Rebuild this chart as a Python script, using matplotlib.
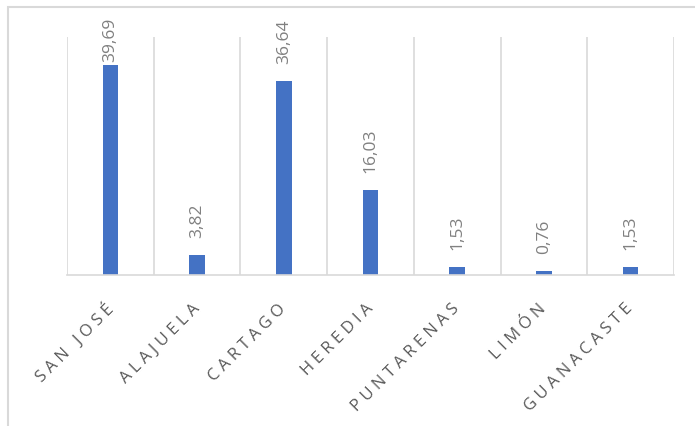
import matplotlib
matplotlib.use("Agg")
import matplotlib.pyplot as plt
from matplotlib.patches import Rectangle

provincias = ["SAN JOSÉ", "ALAJUELA", "CARTAGO", "HEREDIA",
              "PUNTARENAS", "LIMÓN", "GUANACASTE"]
porcentajes = [39.69, 3.82, 36.64, 16.03, 1.53, 0.76, 1.53]

plt.rcParams['font.family'] = ['Open Sans', 'DejaVu Sans']

W, H = 695, 427
fig = plt.figure(figsize=(W / 100, H / 100), dpi=100)
ax = fig.add_axes([67 / W, (H - 276) / H, (674 - 67) / W, (276 - 38) / H])

# chart border
fig.patches.append(Rectangle((8 / W, -0.1), 1.2, (H - 8) / H + 0.1,
                             transform=fig.transFigure, fill=False,
                             edgecolor='#D9D9D9', linewidth=1.5))

x = range(len(provincias))
ax.bar(x, porcentajes, width=0.18, color='#4472C4', zorder=2)

etiquetas = []
for i, v in enumerate(porcentajes):
    t = ax.annotate(f"{v:.2f}".replace(".", ","), (i, v), xytext=(0, 13),
                    textcoords='offset points', rotation=90, ha='center',
                    va='bottom', fontsize=12.5, color='#808080')
    etiquetas.append(t)

ax.set_xlim(-0.5, len(provincias) - 0.5)
ax.set_ylim(0, 45)

# vertical grid between categories
for b in [i - 0.5 for i in range(len(provincias) + 1)]:
    ax.axvline(b, color='#D9D9D9', linewidth=1.2, zorder=0)

for s in ['top', 'left', 'right']:
    ax.spines[s].set_visible(False)
ax.spines['bottom'].set_color('#D9D9D9')
ax.spines['bottom'].set_linewidth(1.2)

ax.set_yticks([])
ax.set_xticks(list(x))
ax.set_xticklabels([" ".join(p) for p in provincias], rotation=45,
                   ha='right', va='center', rotation_mode='anchor',
                   fontsize=12, color='#595959')
ax.tick_params(axis='x', length=0, pad=22)

# keep value labels inside the chart area
fig.canvas.draw()
r = fig.canvas.get_renderer()
limite = H - 18
for t in etiquetas:
    bb = t.get_window_extent(r)
    if bb.y1 > limite:
        t.xyann = (0, 13 - (bb.y1 - limite) * 72 / 100)

fig.savefig("out.png", dpi=100)
